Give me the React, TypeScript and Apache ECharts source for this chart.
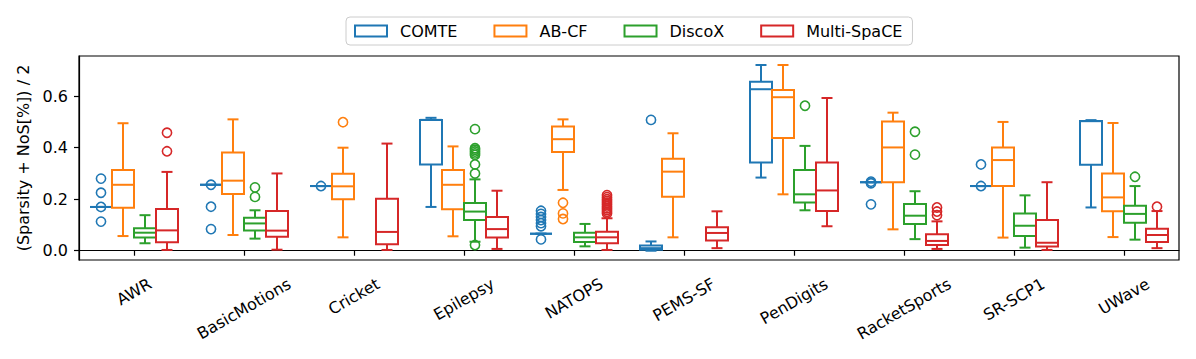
import React, { useEffect, useRef } from "react";
import * as echarts from "echarts";

const categories = ["AWR", "BasicMotions", "Cricket", "Epilepsy", "NATOPS", "PEMS-SF", "PenDigits", "RacketSports", "SR-SCP1", "UWave"];
const methods = ["COMTE", "AB-CF", "DiscoX", "Multi-SpaCE"];
const colors = ["#1f77b4", "#ff7f0e", "#2ca02c", "#d62728"];
const yTicks = [0, 0.2, 0.4, 0.6];

// [min (whisker), q1, median, q3, max (whisker)] per category; null = no data
const comteStats = [
  [0.17, 0.17, 0.17, 0.17, 0.17],
  [0.256, 0.256, 0.256, 0.256, 0.256],
  [0.251, 0.251, 0.251, 0.251, 0.251],
  [0.17, 0.335, 0.508, 0.508, 0.516],
  [0.066, 0.066, 0.066, 0.066, 0.066],
  [0.0, 0.004, 0.01, 0.02, 0.036],
  [0.284, 0.343, 0.627, 0.656, 0.721],
  [0.266, 0.266, 0.266, 0.266, 0.266],
  [0.251, 0.251, 0.251, 0.251, 0.251],
  [0.168, 0.334, 0.503, 0.504, 0.507],
];
const abcfStats = [
  [0.057, 0.167, 0.256, 0.313, 0.495],
  [0.061, 0.22, 0.272, 0.381, 0.51],
  [0.052, 0.2, 0.25, 0.299, 0.4],
  [0.056, 0.161, 0.256, 0.313, 0.405],
  [0.236, 0.383, 0.433, 0.482, 0.51],
  [0.052, 0.21, 0.307, 0.357, 0.456],
  [0.219, 0.438, 0.596, 0.624, 0.721],
  [0.083, 0.266, 0.401, 0.502, 0.536],
  [0.051, 0.251, 0.352, 0.401, 0.5],
  [0.053, 0.153, 0.207, 0.3, 0.496],
];
const discoxStats = [
  [0.029, 0.051, 0.07, 0.087, 0.138],
  [0.047, 0.079, 0.106, 0.128, 0.157],
  null,
  [0.035, 0.119, 0.152, 0.185, 0.277],
  [0.017, 0.034, 0.052, 0.07, 0.104],
  null,
  [0.157, 0.187, 0.219, 0.313, 0.407],
  [0.045, 0.104, 0.136, 0.181, 0.231],
  [0.012, 0.057, 0.097, 0.145, 0.215],
  [0.043, 0.109, 0.143, 0.175, 0.251],
];
const multiStats = [
  [0.003, 0.033, 0.079, 0.162, 0.306],
  [0.004, 0.054, 0.078, 0.154, 0.3],
  [0.003, 0.025, 0.073, 0.202, 0.416],
  [0.007, 0.051, 0.084, 0.131, 0.233],
  [0.003, 0.029, 0.052, 0.074, 0.126],
  [0.01, 0.04, 0.069, 0.091, 0.153],
  [0.095, 0.154, 0.234, 0.343, 0.593],
  [0.007, 0.022, 0.038, 0.064, 0.114],
  [0.003, 0.016, 0.031, 0.119, 0.266],
  [0.01, 0.034, 0.061, 0.085, 0.154],
];

// outliers: [category index, value]
const comteOutliers = [
  [0, 0.28], [0, 0.225], [0, 0.17], [0, 0.113],
  [1, 0.256], [1, 0.171], [1, 0.084],
  [2, 0.251],
  [4, 0.155], [4, 0.143], [4, 0.131], [4, 0.119], [4, 0.107], [4, 0.095], [4, 0.044],
  [5, 0.508],
  [7, 0.268], [7, 0.262], [7, 0.18],
  [8, 0.335], [8, 0.251],
];
const abcfOutliers = [
  [2, 0.499],
  [4, 0.186], [4, 0.145], [4, 0.123],
];
const discoxOutliers = [
  [1, 0.246], [1, 0.209],
  [3, 0.472], [3, 0.398], [3, 0.392], [3, 0.385], [3, 0.378], [3, 0.372], [3, 0.335], [3, 0.3], [3, 0.022],
  [6, 0.563],
  [7, 0.462], [7, 0.373],
  [9, 0.287],
];
const multiOutliers = [
  [0, 0.458], [0, 0.386],
  [4, 0.216], [4, 0.208], [4, 0.2], [4, 0.193], [4, 0.186], [4, 0.179], [4, 0.172], [4, 0.165], [4, 0.158], [4, 0.151], [4, 0.145],
  [7, 0.168], [7, 0.152], [7, 0.138],
  [9, 0.171],
];

const allStats = [comteStats, abcfStats, discoxStats, multiStats];
const allOutliers = [comteOutliers, abcfOutliers, discoxOutliers, multiOutliers];

const FONT = "DejaVu Sans";
const FS = 16;

function measure(text: string): number {
  const ctx = document.createElement("canvas").getContext("2d");
  if (!ctx) return text.length * FS * 0.6;
  ctx.font = `${FS}px "${FONT}"`;
  return ctx.measureText(text).width;
}

export default function App() {
  const ref = useRef<HTMLDivElement>(null);
  useEffect(() => {
    if (!ref.current) return;
    const chart = echarts.init(ref.current, null, { renderer: "svg" });
    const t30 = Math.tan(Math.PI / 6);
    const LH = 16;
    const MARGIN = 10;

    // Emulate matplotlib's rotated, centre-aligned tick labels: the rotated
    // label's bounding box is centred on the tick with its top at a fixed gap.
    const xData = categories.map((c) => {
      const w = measure(c);
      const q = (17 + w / 4 + 5.5 - MARGIN) / (1 / Math.cos(Math.PI / 6));
      const pt = Math.max(0, q - LH / 2);
      const pr = 2 * q * t30;
      return {
        value: c,
        textStyle: {
          align: "center",
          verticalAlign: "top",
          lineHeight: LH,
          padding: [pt, pr, 0, 0],
          fontSize: FS,
          fontFamily: FONT,
          color: "#000",
        },
      };
    });

    const series: any[] = [];
    methods.forEach((m, k) => {
      const color = colors[k];
      const boxData = allStats[k]
        .map((s, i) => (s ? [i, ...s] : null))
        .filter((d) => d !== null);
      series.push({
        type: "custom",
        name: m,
        z: 2 + k,
        data: boxData,
        encode: { x: 0, y: [1, 2, 3, 4, 5] },
        itemStyle: { color },
        renderItem: (params: any, api: any) => {
          const idx = api.value(0);
          const band = api.size([1, 0])[0];
          const w = 0.2 * band;
          const cx = api.coord([idx, 0])[0] + (k - 1.5) * w;
          const ys = [1, 2, 3, 4, 5].map((j) => api.coord([idx, api.value(j)])[1]);
          const st = { stroke: color, lineWidth: 2, fill: "none" };
          const cap = w / 4;
          return {
            type: "group",
            children: [
              { type: "line", shape: { x1: cx, y1: ys[0], x2: cx, y2: ys[1] }, style: st },
              { type: "line", shape: { x1: cx, y1: ys[3], x2: cx, y2: ys[4] }, style: st },
              { type: "line", shape: { x1: cx - cap, y1: ys[0], x2: cx + cap, y2: ys[0] }, style: st },
              { type: "line", shape: { x1: cx - cap, y1: ys[4], x2: cx + cap, y2: ys[4] }, style: st },
              { type: "rect", shape: { x: cx - w / 2, y: ys[3], width: w, height: ys[1] - ys[3] }, style: st },
              { type: "line", shape: { x1: cx - w / 2, y1: ys[2], x2: cx + w / 2, y2: ys[2] }, style: st },
            ],
          };
        },
      });
      series.push({
        type: "custom",
        name: m,
        z: 2 + k,
        data: allOutliers[k],
        encode: { x: 0, y: 1 },
        itemStyle: { color },
        renderItem: (params: any, api: any) => {
          const idx = api.value(0);
          const band = api.size([1, 0])[0];
          const w = 0.2 * band;
          const p = api.coord([idx, api.value(1)]);
          return {
            type: "circle",
            shape: { cx: p[0] + (k - 1.5) * w, cy: p[1], r: 4.6 },
            style: { stroke: color, lineWidth: 1.6, fill: "none" },
          };
        },
      });
    });

    chart.setOption({
      animation: false,
      textStyle: { fontFamily: FONT },
      legend: {
        left: 346,
        top: 17,
        padding: [6, 10, 6, 8],
        itemGap: 36,
        itemWidth: 32,
        itemHeight: 11,
        selectedMode: false,
        borderColor: "#cccccc",
        borderWidth: 1,
        borderRadius: 4,
        backgroundColor: "#fff",
        textStyle: { fontSize: FS, color: "#000", fontFamily: FONT, padding: [0, 0, 0, 8] },
        data: methods.map((m, k) => ({
          name: m,
          icon: "rect",
          itemStyle: { color: "rgba(255,255,255,0)", borderColor: colors[k], borderWidth: 2 },
        })),
      },
      grid: {
        left: 79,
        top: 56,
        width: 1100,
        height: 204,
        show: true,
        borderColor: "#000",
        borderWidth: 1.2,
        backgroundColor: "transparent",
      },
      xAxis: {
        type: "category",
        data: xData,
        boundaryGap: true,
        axisLine: { show: true, lineStyle: { color: "#000", width: 1.2 } },
        axisTick: { show: true, alignWithLabel: true, length: 5, lineStyle: { color: "#000", width: 1.2 } },
        axisLabel: {
          interval: 0,
          rotate: 30,
          align: "center",
          verticalAlign: "top",
          margin: MARGIN,
          fontSize: FS,
          fontFamily: FONT,
          color: "#000",
          hideOverlap: false,
        },
        splitLine: { show: false },
      },
      yAxis: {
        type: "value",
        min: -0.036,
        max: 0.756,
        name: "(Sparsity + NoS[%]) / 2",
        nameLocation: "middle",
        nameGap: 46,
        nameTextStyle: { fontSize: FS, color: "#000", fontFamily: FONT },
        axisLine: { show: true, lineStyle: { color: "#000", width: 1.2 } },
        axisTick: { show: true, length: 5, customValues: yTicks, lineStyle: { color: "#000", width: 1.2 } },
        axisLabel: {
          customValues: yTicks,
          formatter: (v: number) => v.toFixed(1),
          fontSize: FS,
          fontFamily: FONT,
          color: "#000",
          margin: 11,
        },
        splitLine: { show: false },
      },
      series,
    });
    return () => chart.dispose();
  }, []);
  return (
    <div
      ref={ref}
      style={{ position: "fixed", left: 0, top: 0, width: 1196, height: 359, background: "#fff" }}
    />
  );
}
